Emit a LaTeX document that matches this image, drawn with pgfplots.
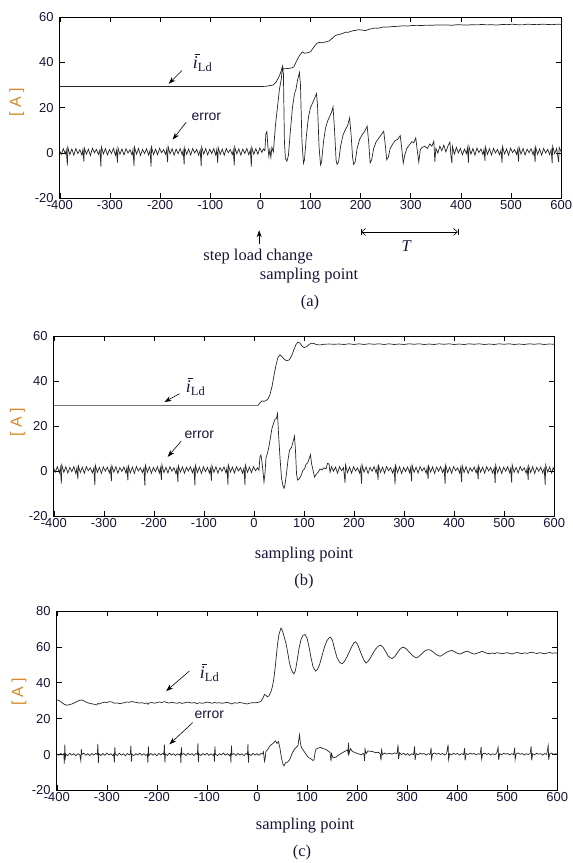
\documentclass[border=0pt]{standalone}
\usepackage{fontspec}
\setmainfont{Liberation Serif}
\newfontfamily\arial{Liberation Sans}
\usepackage{pgfplots}
\pgfplotsset{compat=1.18}
\usetikzlibrary{arrows.meta}

\definecolor{ticklab}{RGB}{20,20,60}
\definecolor{alabel}{RGB}{214,137,39}

\pgfplotsset{
  panel/.style={
    scale only axis,
    xmin=-400, xmax=600,
    xtick={-400,-300,...,600},
    tick align=inside,
    major tick length=5pt,
    every tick/.style={black, line width=0.6pt},
    axis line style={line width=0.8pt},
    ticklabel style={font=\arial\fontsize{13}{15}\selectfont, text=ticklab, inner sep=1pt},
    xticklabel style={yshift=-1pt},
    yticklabel style={xshift=-5pt},
    /pgf/number format/assume math mode=true,
  },
  sig/.style={black!85, line width=0.7pt, mark=none},
}

% i_Ld with bar drawn as a rule
\newcommand{\ild}{{\fontsize{18}{20}\selectfont\rlap{\kern1.8pt\raisebox{14pt}{\rule{5pt}{0.7pt}}}\textit{i}}\raisebox{-2.5pt}{\fontsize{12.5}{14}\selectfont Ld}}

\tikzset{
  ann/.style={-{Stealth[length=7pt,width=5pt]}, line width=0.6pt},
  errtxt/.style={font=\arial\fontsize{14}{16}\selectfont, text=ticklab},
  ildtxt/.style={text=ticklab, inner sep=1pt},
  sertxt/.style={font=\fontsize{16.5}{18}\selectfont, text=ticklab},
  atxt/.style={font=\arial\fontsize{16}{18}\selectfont, text=alabel, rotate=90},
}

\begin{document}
\begin{tikzpicture}[x=1pt,y=1pt]
\path (0,0) rectangle (573,-863);

% ---------------- (a) ----------------
\begin{axis}[panel, at={(60pt,-199pt)}, anchor=south west, width=503pt, height=182pt,
  ymin=-20, ymax=60, ytick={-20,0,...,60}]
\addplot[sig] coordinates {
(-400,29.3) (0,29.3) (10,29.4) (18,29.7) (26,30.0) (32,31.5) (38,34) (42,36.5) (44,38.2) (46,37.0) (50,37.2) (56,37.3) (62,37.5) (67,38) (72,40.5) (78,43) (84,44.6) (88,44.0) (94,44.2) (100,44.6) (106,46.5) (112,48.2) (117,48.8) (123,48.6) (130,49.0) (137,49.4) (143,50.5) (148,51.6) (153,52.1) (158,52.3) (165,52.8) (170,53.3) (175,53.2) (180,53.6) (186,54.0) (191,54.1) (196,54.4) (203,54.2) (210,54.0) (216,54.5) (222,54.8) (228,55.1) (234,55.0) (240,55.3) (246,55.6) (252,55.5) (260,55.7) (268,55.8) (276,55.9) (285,56.1) (294,56.0) (302,56.2) (312,56.3) (322,56.2) (332,56.4) (342,56.3) (352,56.5) (362,56.4) (372,56.5) (382,56.3) (392,56.6) (402,56.5) (412,56.4) (422,56.6) (432,56.5) (442,56.7) (452,56.5) (462,56.6) (472,56.4) (482,56.7) (492,56.6) (502,56.8) (512,56.6) (522,56.5) (532,56.8) (542,56.7) (552,56.6) (562,56.8) (572,56.7) (582,56.6) (592,56.8) (600,56.7)
};
\addplot[sig] coordinates {
(-400,0.8) (-397,-0.6) (-393,1.9) (-389,-0.4) (-387,1.3)
(-385,-5.6) (-384,2.6) (-380,-0.7) (-376,1.8) (-372,-1.0) (-368,2.0) (-364,-0.3) (-360,1.5) (-356,-0.9) (-354,1.4)
(-352,-3.8) (-351,2.2) (-347,-0.5) (-343,1.7) (-339,-1.1) (-335,2.1) (-331,0.1) (-327,1.6) (-323,-0.7) (-320,1.3)
(-318,-6.0) (-317,2.7) (-313,-0.4) (-309,1.9) (-305,-0.8) (-301,1.5) (-297,-0.2) (-293,2.0) (-289,-1.0) (-287,1.2)
(-285,-4.2) (-284,2.3) (-280,-0.6) (-276,1.8) (-272,-0.9) (-268,1.9) (-264,0.0) (-260,1.4) (-256,-0.8) (-254,1.5)
(-252,-5.8) (-251,2.5) (-247,-0.5) (-243,2.0) (-239,-1.1) (-235,1.6) (-231,-0.2) (-227,1.8) (-223,-0.9) (-220,1.3)
(-218,-6.0) (-217,2.6) (-213,-0.7) (-209,1.7) (-205,-0.8) (-201,2.1) (-197,0.1) (-193,1.5) (-189,-0.6) (-187,1.4)
(-185,-4.0) (-184,2.9) (-180,-0.4) (-176,1.9) (-172,-1.0) (-168,1.7) (-164,-0.3) (-160,2.0) (-156,-0.8) (-154,1.2)
(-152,-5.0) (-151,2.4) (-147,-0.6) (-143,1.8) (-139,-0.9) (-135,2.0) (-131,0.0) (-127,1.6) (-123,-1.0) (-120,1.3)
(-118,-5.8) (-117,2.7) (-113,-0.5) (-109,1.9) (-105,-0.8) (-101,1.6) (-97,-0.2) (-93,1.9) (-89,-0.9) (-87,1.4)
(-85,-4.5) (-84,2.4) (-80,-0.6) (-76,1.7) (-72,-1.0) (-68,2.0) (-64,0.1) (-60,1.5) (-56,-0.7) (-54,1.3)
(-52,-5.5) (-51,2.6) (-47,-0.4) (-43,1.8) (-39,-0.9) (-35,1.7) (-31,-0.2) (-27,2.0) (-23,-0.8) (-20,1.4)
(-18,-6.0) (-17,2.5) (-13,-0.6) (-9,1.9) (-5,-0.5) (-1,2.2) (3,0.3) (6,1.8)
(9,1.0) (11,8.5) (13,9.5) (15,3) (17,-1.5) (19,1.5) (21,-2.0) (23,2.5) (26,0.5) (30,12) (34,20) (38,28) (42,33) (44,38) (46,35) (48,5) (50,-2.5) (53,-3.6) (56,-1) (60,10) (64,20) (68,26) (71,28) (74,32) (78,35.5) (80,30) (83,5) (86,-4.5) (88,-3) (92,8) (96,16) (100,20) (104,22) (108,24) (112,26.2) (114,21) (117,3) (120,-5.2) (122,-4) (126,5) (130,11) (134,14) (138,16) (142,18) (145,20.3) (148,10) (151,-3) (153,-5) (156,-4) (160,3) (165,8) (170,10.5) (174,12) (178,15.5) (181,8) (184,-2) (186,-5) (189,-4) (193,2) (198,6) (203,8) (208,9.5) (213,11.8) (216,5) (219,-4.4) (222,-3) (226,2) (231,5) (236,6.5) (241,8) (246,9.6) (249,4) (252,-3) (255,-2) (259,2) (264,4) (269,5.5) (274,6) (279,7.7) (282,2) (285,-4.5) (288,-1) (292,2) (297,3.5) (302,5) (306,4.5) (310,6.7) (313,1) (316,-4) (319,1.5) (323,2.5) (328,3) (333,2) (338,4) (342,3) (346,5.2) (348,-3.8) (350,2) (354,0) (358,3) (362,1) (366,3.5) (370,0.5) (374,3) (378,4.8) (380,-1) (382,-4.5) (383,3.0)
(387,-0.5) (391,2.5) (395,0.0) (399,2.0) (403,-0.8) (407,1.7) (411,-0.3) (413,2.2)
(415,-4.2) (416,3.0) (420,-0.5) (424,2.0) (428,-1.0) (432,2.2) (436,0.2) (440,1.8) (444,-0.7) (446,1.5)
(448,-3.5) (449,2.6) (453,-0.6) (457,1.9) (461,-0.9) (465,2.0) (469,0.0) (473,1.6) (477,-0.8) (480,1.3)
(482,-4.5) (483,2.8) (487,-0.4) (491,1.8) (495,-1.0) (499,2.1) (503,0.2) (507,1.5) (511,-0.6) (513,1.4)
(515,-3.8) (516,2.5) (520,-0.5) (524,2.0) (528,-0.9) (532,1.7) (536,0.1) (540,1.9) (544,-0.8) (546,1.3)
(548,-4.0) (549,2.7) (553,-0.6) (557,1.8) (561,-1.0) (565,2.0) (569,0.0) (573,1.6) (577,-0.7) (580,1.5)
(582,-4.5) (583,3.0) (587,-0.3) (591,2.0) (595,-4.0) (596,2.5) (600,0.5)
};
\end{axis}

% ---------------- (b) ----------------
\begin{axis}[panel, at={(54pt,-518pt)}, anchor=south west, width=502pt, height=181pt,
  ymin=-20, ymax=60, ytick={-20,0,...,60}]
\addplot[sig] coordinates {
(-400,29.2) (8,29.2) (12,30.3) (16,31.2) (20,31.0) (24,31.3) (28,32.0) (32,34.0) (36,37.5) (40,42.5) (44,47.0) (48,50.5) (52,51.6) (56,50.8) (60,49.8) (65,49.0) (70,49.3) (75,51.0) (80,54.0) (84,56.2) (88,57.3) (92,56.8) (96,55.5) (100,54.8) (105,55.2) (110,56.2) (115,56.8) (120,56.6) (126,56.1) (132,56.0) (140,56.3) (150,56.4) (160,56.3) (170,56.4) (180,56.2) (190,56.5) (200,56.2) (210,56.5) (220,56.2) (230,56.5) (240,56.3) (250,56.5) (260,56.2) (270,56.5) (280,56.2) (290,56.4) (300,56.2) (310,56.5) (320,56.3) (330,56.5) (340,56.2) (350,56.4) (360,56.2) (370,56.5) (380,56.3) (390,56.5) (400,56.2) (410,56.4) (420,56.2) (430,56.5) (440,56.3) (450,56.5) (460,56.2) (470,56.4) (480,56.2) (490,56.5) (500,56.3) (510,56.5) (520,56.2) (530,56.4) (540,56.2) (550,56.5) (560,56.3) (570,56.5) (580,56.2) (590,56.4) (600,56.3)
};
\addplot[sig] coordinates {
(-400,1.2) (-397,-0.4) (-393,2.0) (-389,-0.8) (-387,1.6)
(-385,-5.5) (-384,2.8) (-380,-0.5) (-376,2.0) (-372,-0.8) (-368,1.7) (-364,-0.2) (-360,2.1) (-356,-1.0) (-354,1.3)
(-352,-3.5) (-351,2.4) (-347,-0.6) (-343,1.8) (-339,-0.9) (-335,2.0) (-331,0.2) (-327,1.5) (-323,-0.8) (-320,1.4)
(-318,-6.2) (-317,2.6) (-313,-0.5) (-309,1.7) (-305,-1.0) (-301,1.9) (-297,0.0) (-293,1.8) (-289,-0.7) (-287,1.2)
(-285,-4.5) (-284,2.5) (-280,-0.4) (-276,2.0) (-272,-0.9) (-268,1.6) (-264,-0.1) (-260,1.9) (-256,-0.8) (-254,1.4)
(-252,-4.0) (-251,2.3) (-247,-0.7) (-243,1.8) (-239,-1.0) (-235,2.1) (-231,0.1) (-227,1.5) (-223,-0.6) (-220,1.3)
(-218,-6.4) (-217,2.7) (-213,-0.5) (-209,1.9) (-205,-0.9) (-201,1.7) (-197,-0.2) (-193,2.0) (-189,-0.8) (-187,1.5)
(-185,-3.8) (-184,2.9) (-180,-0.6) (-176,1.7) (-172,-0.8) (-168,2.0) (-164,0.0) (-160,1.6) (-156,-1.0) (-154,1.2)
(-152,-4.8) (-151,2.4) (-147,-0.4) (-143,1.9) (-139,-0.9) (-135,1.8) (-131,0.1) (-127,2.0) (-123,-0.7) (-120,1.4)
(-118,-6.3) (-117,2.6) (-113,-0.6) (-109,1.8) (-105,-1.0) (-101,2.0) (-97,-0.2) (-93,1.7) (-89,-0.8) (-87,1.3)
(-85,-4.2) (-84,2.5) (-80,-0.5) (-76,2.0) (-72,-0.9) (-68,1.6) (-64,0.0) (-60,1.9) (-56,-0.7) (-54,1.5)
(-52,-6.0) (-51,2.7) (-47,-0.4) (-43,1.8) (-39,-0.8) (-35,2.0) (-31,0.1) (-27,1.6) (-23,-0.9) (-20,1.4)
(-18,-6.2) (-17,2.6) (-13,-0.5) (-9,1.8) (-5,-0.6) (-1,2.0) (3,0.2) (7,1.5) (10,0.5)
(12,6.5) (14,7.2) (16,4) (18,0) (20,-4.8) (22,-1) (24,6) (27,8) (30,11) (33,15) (36,19) (39,21) (42,23) (45,23.5) (47,25.5) (49,17) (52,6) (55,-3) (58,-6.5) (60,-7.6) (62,-6) (65,-1) (68,5) (71,9.3) (75,10.5) (78,13) (81,15.5) (83,9) (85,-1) (87,-3.9) (90,-3.5) (94,-2) (98,0.5) (101,1) (104,3) (108,4) (111,6) (113,7.3) (115,3.5) (118,0.5) (121,-2.6) (124,-1.5) (128,-0.5) (132,1) (136,0.6) (140,1.5) (144,1) (147,3.5) (150,3.2) (152,-0.5) (155,2) (159,0.0) (163,1.8) (167,-0.9) (171,2.0) (175,0.2) (179,1.6)
(182,-5.2) (183,2.7) (187,-0.6) (191,1.8) (195,-0.9) (199,2.0) (203,0.1) (207,1.5) (211,-0.8) (213,1.3)
(215,-5.5) (216,2.8) (220,-0.4) (224,1.9) (228,-1.0) (232,1.7) (236,0.0) (240,2.0) (244,-0.7) (246,1.4)
(248,-3.8) (249,2.5) (253,-0.5) (257,1.8) (261,-0.9) (265,2.1) (269,0.2) (273,1.6) (277,-0.8) (280,1.3)
(282,-5.8) (283,2.6) (287,-0.6) (291,2.0) (295,-1.0) (299,1.7) (303,-0.1) (307,1.9) (311,-0.7) (313,1.5)
(315,-4.5) (316,2.7) (320,-0.5) (324,1.8) (328,-0.8) (332,2.0) (336,0.1) (340,1.6) (344,-0.9) (346,1.4)
(348,-3.5) (349,2.4) (353,-0.4) (357,1.9) (361,-1.0) (365,1.8) (369,0.0) (373,2.0) (377,-0.6) (380,1.3)
(382,-5.6) (383,2.8) (387,-0.6) (391,1.7) (395,-0.9) (399,2.1) (403,0.2) (407,1.5) (411,-0.8) (413,1.4)
(415,-4.8) (416,2.6) (420,-0.5) (424,2.0) (428,-1.0) (432,1.6) (436,-0.1) (440,1.9) (444,-0.7) (446,1.3)
(448,-3.6) (449,2.5) (453,-0.4) (457,1.8) (461,-0.9) (465,2.0) (469,0.1) (473,1.7) (477,-0.8) (480,1.4)
(482,-5.2) (483,2.7) (487,-0.6) (491,1.9) (495,-1.0) (499,1.8) (503,0.0) (507,2.0) (511,-0.7) (513,1.2)
(515,-5.0) (516,2.9) (520,-0.5) (524,1.7) (528,-0.8) (532,2.1) (536,0.2) (540,1.5) (544,-0.9) (546,1.4)
(548,-3.8) (549,2.4) (553,-0.6) (557,2.0) (561,-1.0) (565,1.7) (569,0.0) (573,1.8) (577,-0.7) (580,1.3)
(582,-6.0) (583,2.8) (587,-0.4) (591,1.9) (595,-0.8) (598,1.6) (600,0.4)
};
\end{axis}

% ---------------- (c) ----------------
\begin{axis}[panel, at={(57pt,-793pt)}, anchor=south west, width=502pt, height=180pt,
  ymin=-20, ymax=80, ytick={-20,0,...,80}]
\addplot[sig] coordinates {
(-400,30.5) (-395,30.0) (-390,29.0) (-385,28.0) (-380,27.5) (-375,27.8) (-370,28.2) (-365,28.8) (-360,29.5) (-355,30.2) (-350,30.4) (-345,29.8) (-340,29.0) (-335,28.6) (-330,28.3) (-325,28.0) (-320,27.6) (-318,28.5) (-315,28.2) (-310,28.8) (-305,29.2) (-300,29.0) (-295,29.5) (-290,29.3) (-285,28.6) (-280,28.8) (-275,28.4) (-270,28.6) (-265,28.9) (-260,29.3) (-255,29.1) (-250,29.6) (-245,29.2) (-240,29.0) (-235,28.7) (-230,28.9) (-225,28.5) (-220,28.7) (-218,28.0) (-215,28.8) (-210,29.0) (-205,28.6) (-200,29.0) (-195,29.3) (-190,29.0) (-185,29.5) (-180,29.0) (-175,28.7) (-170,29.1) (-165,28.8) (-160,28.6) (-155,29.0) (-150,28.5) (-145,28.8) (-140,29.2) (-135,29.0) (-130,28.7) (-125,29.0) (-120,28.4) (-115,28.9) (-110,28.6) (-105,28.8) (-100,29.2) (-95,29.0) (-90,28.6) (-85,29.0) (-80,28.7) (-75,28.9) (-70,28.6) (-65,28.8) (-60,29.1) (-55,28.7) (-50,28.2) (-45,28.9) (-40,28.6) (-35,29.0) (-30,28.8) (-25,28.5) (-20,28.2) (-15,28.6) (-10,28.9) (-5,28.8) (0,29.0) (5,29.3) (9,30.0) (12,31.5) (15,33.5) (18,33.0) (21,32.2) (24,32.8) (28,35) (31,38) (34,42.8) (37,50) (41,61.3) (44,67) (48,70.5) (51,69) (55,65) (58,62) (62,56) (65,51) (68,48) (71,46) (74,45) (77,47) (80,52) (84,59) (88,64) (92,66.5) (96,66.9) (100,65) (104,60) (108,54) (112,49) (117,46.5) (121,47.5) (125,50) (130,55) (135,60) (140,63.5) (144,65) (147,65.4) (151,63.5) (155,59) (160,54) (165,51.5) (170,50.6) (175,52) (180,54.5) (185,57.5) (190,60.5) (194,62.3) (197,62.8) (201,61.5) (205,58.5) (210,55) (214,52.5) (218,51) (222,52) (227,54) (232,56.5) (237,58.8) (242,60.3) (247,61) (252,59.8) (257,57.5) (262,55) (266,54) (270,53.5) (275,54.5) (280,56.5) (285,58.5) (289,59.5) (293,59.8) (298,59) (303,57.5) (308,56) (313,54.7) (318,53.9) (323,54.5) (328,55.8) (333,57.2) (338,58.2) (343,58.5) (348,58) (353,57) (358,55.8) (362,55.2) (366,54.8) (371,55.5) (376,56.5) (381,57.3) (386,57.8) (390,58) (395,57.3) (400,56.5) (405,56) (410,56.5) (415,57.2) (420,57.6) (425,57) (430,56.3) (435,56) (440,56.5) (445,57) (450,57.5) (455,57) (460,56.4) (465,56.2) (470,56.6) (475,56.3) (480,56.8) (485,56.5) (490,56.2) (495,56.5) (500,56.8) (505,56.4) (510,56.0) (515,56.6) (520,56.9) (525,56.5) (530,56.3) (535,56.7) (540,56.4) (545,56.8) (550,57.0) (555,56.6) (560,56.3) (565,56.8) (570,56.5) (575,56.2) (580,56.6) (585,56.9) (590,56.4) (595,56.7) (600,56.5)
};
\addplot[sig] coordinates {
(-400,0.3) (-396,-0.4) (-392,0.6) (-388,-0.2) (-386,0.4)
(-385,-5.0) (-384,5.5) (-383,-1.5) (-382,0.2) (-378,-0.6) (-374,0.7) (-370,-0.3) (-366,0.5) (-362,-0.7) (-358,0.4) (-354,-0.2)
(-352,-3.5) (-351,3.0) (-350,0.0) (-346,0.8) (-342,-0.4) (-338,0.5) (-334,-0.6) (-330,0.6) (-326,-0.3) (-322,0.7) (-319,0.0)
(-318,6.0) (-317,-4.8) (-316,0.5) (-312,-0.5) (-308,0.6) (-304,-0.4) (-300,0.8) (-296,-0.2) (-292,0.5) (-288,-0.6) (-286,0.3)
(-285,-4.5) (-284,4.0) (-283,0.2) (-279,-0.5) (-275,0.7) (-271,-0.3) (-267,0.4) (-263,-0.7) (-259,0.6) (-255,-0.2) (-253,0.4)
(-252,5.0) (-251,-4.0) (-250,0.3) (-246,-0.6) (-242,0.5) (-238,-0.3) (-234,0.8) (-230,-0.4) (-226,0.5) (-222,-0.5) (-219,0.2)
(-218,-4.5) (-217,4.5) (-216,-0.5) (-212,0.6) (-208,-0.4) (-204,0.5) (-200,-0.7) (-196,0.6) (-192,-0.2) (-188,0.7) (-186,0.0)
(-185,5.5) (-184,-4.5) (-183,0.3) (-179,-0.5) (-175,0.8) (-171,-0.3) (-167,0.5) (-163,-0.6) (-159,0.4) (-155,-0.3) (-153,0.5)
(-152,-4.8) (-151,4.0) (-150,0.0) (-146,0.6) (-142,-0.5) (-138,0.7) (-134,-0.2) (-130,0.5) (-126,-0.6) (-122,0.6) (-119,0.0)
(-118,6.2) (-117,-4.2) (-116,0.4) (-112,-0.5) (-108,0.6) (-104,-0.3) (-100,0.7) (-96,-0.5) (-92,0.4) (-88,-0.4) (-86,0.3)
(-85,-4.0) (-84,4.5) (-83,0.2) (-79,-0.6) (-75,0.5) (-71,-0.2) (-67,0.8) (-63,-0.4) (-59,0.5) (-55,-0.6) (-53,0.3)
(-52,-4.5) (-51,5.0) (-50,0.0) (-46,0.5) (-42,-0.5) (-38,0.7) (-34,-0.3) (-30,0.4) (-26,-0.6) (-22,0.6) (-19,0.0)
(-18,5.8) (-17,-4.5) (-16,0.3) (-12,-0.5) (-8,0.6) (-4,-0.3) (0,0.5) (4,-0.4) (8,0.6) (11,0.3)
(13,1.5) (15,-3.8) (16,-2.8) (18,1.8) (21,2.6) (25,4.5) (29,5.5) (33,6.5) (37,7.6) (40,6.2) (43,7.2) (46,3.5) (49,-2.0) (52,-5.4) (54,-6.3) (57,-4.6) (61,-4.2) (65,-3.0) (68,-1.0) (71,1.1) (75,3.0) (79,4.2) (82,5.0) (84,9.0) (85,11.0) (87,6.0) (89,3.9) (93,2.2) (97,0.6) (100,-0.7) (104,-1.8) (108,-2.4) (112,-3.3) (114,-3.0) (116,1.0) (118,3.0) (122,3.6) (127,4.0) (132,3.3) (137,3.0) (142,2.0) (146,1.2) (148,-3.8) (149,0.5) (152,-1.8) (157,-1.5) (162,-0.6) (167,0.4) (172,1.2) (177,2.0) (181,2.6) (182,1.0) (183,6.7) (184,0.5) (187,3.3) (191,1.6) (196,1.2) (200,0.6) (204,0.3) (208,-0.2) (212,0.6) (214,0.0) (215,-3.5) (216,3.0) (218,0.5) (222,2.0) (227,1.8) (232,1.6) (237,1.0) (242,1.3) (246,0.6) (248,-3.2) (249,2.5) (251,0.0) (255,0.8) (260,0.3) (265,0.7) (270,0.2) (275,0.9) (280,0.4) (282,5.5) (283,-2.5) (285,1.0) (289,0.0) (293,0.7) (297,-0.3) (301,0.6) (305,-0.5) (309,0.4) (313,0.0) (315,4.5) (316,-3.0) (318,0.6) (322,-0.2) (326,0.8) (330,0.2) (334,0.6) (338,-0.3) (342,0.5) (346,0.0)
(348,3.8) (349,-2.5) (351,0.4) (355,0.9) (359,0.2) (363,0.7) (367,0.0) (371,0.6) (375,-0.2) (379,0.5)
(382,5.5) (383,-2.8) (385,0.5) (389,-0.2) (393,0.7) (397,0.1) (401,0.6) (405,-0.3) (409,0.5) (413,0.0)
(415,3.5) (416,-3.2) (418,0.6) (422,0.0) (426,0.8) (430,0.2) (434,0.6) (438,-0.2) (442,0.5) (446,0.1)
(448,4.2) (449,-2.5) (451,0.3) (455,0.8) (459,0.0) (463,0.6) (467,-0.3) (471,0.5) (475,0.0) (479,0.6)
(482,4.0) (483,-3.0) (485,0.5) (489,-0.1) (493,0.7) (497,0.2) (501,0.6) (505,-0.2) (509,0.5) (513,0.0)
(515,3.8) (516,-2.8) (518,0.4) (522,0.9) (526,0.1) (530,0.6) (534,-0.3) (538,0.5) (542,0.0) (546,0.6)
(548,4.5) (549,-3.2) (551,0.5) (555,-0.1) (559,0.7) (563,0.2) (567,0.5) (571,-0.3) (575,0.6) (579,0.0)
(582,5.0) (583,-3.0) (585,0.4) (589,0.8) (593,0.0) (596,0.5) (600,0.2)
};
\end{axis}

% ---------------- annotations ----------------
% (a)
\node[atxt] at (16.7,-103) {[ A ]};
\node[ildtxt] at (203,-63) {\ild};
\draw[ann] (182.7,-70.7) -- (169.3,-84);
\node[errtxt] at (207,-117) {error};
\draw[ann] (186.7,-122.7) -- (173.3,-140);
\draw[ann] (260,-245) -- (260,-231);
\node[sertxt] at (259,-257) {step load change};
\node[sertxt] at (310,-276) {sampling point};
\node[sertxt] at (311,-304) {(a)};
\draw[|<->|, >={Straight Barb[length=4pt,width=7pt]}, line width=0.6pt] (361.7,-232.7) -- (460,-232.7);
\node[sertxt] at (408,-247) {\textit{T}};
% (b)
\node[atxt] at (17.5,-424) {[ A ]};
\node[ildtxt] at (196,-388) {\ild};
\draw[ann] (180,-395) -- (165,-403.3);
\node[errtxt] at (200,-436.7) {error};
\draw[ann] (181.7,-442.7) -- (168.3,-458.3);
\node[sertxt] at (305,-556.7) {sampling point};
\node[sertxt] at (305,-583) {(b)};
% (c)
\node[atxt] at (19,-694) {[ A ]};
\node[ildtxt] at (210,-675) {\ild};
\draw[ann] (190,-673.3) -- (166.7,-693.3);
\node[errtxt] at (210,-716.7) {error};
\draw[ann] (193.3,-725) -- (170,-746.7);
\node[sertxt] at (306,-828) {sampling point};
\node[sertxt] at (303,-855) {(c)};
\end{tikzpicture}
\end{document}
